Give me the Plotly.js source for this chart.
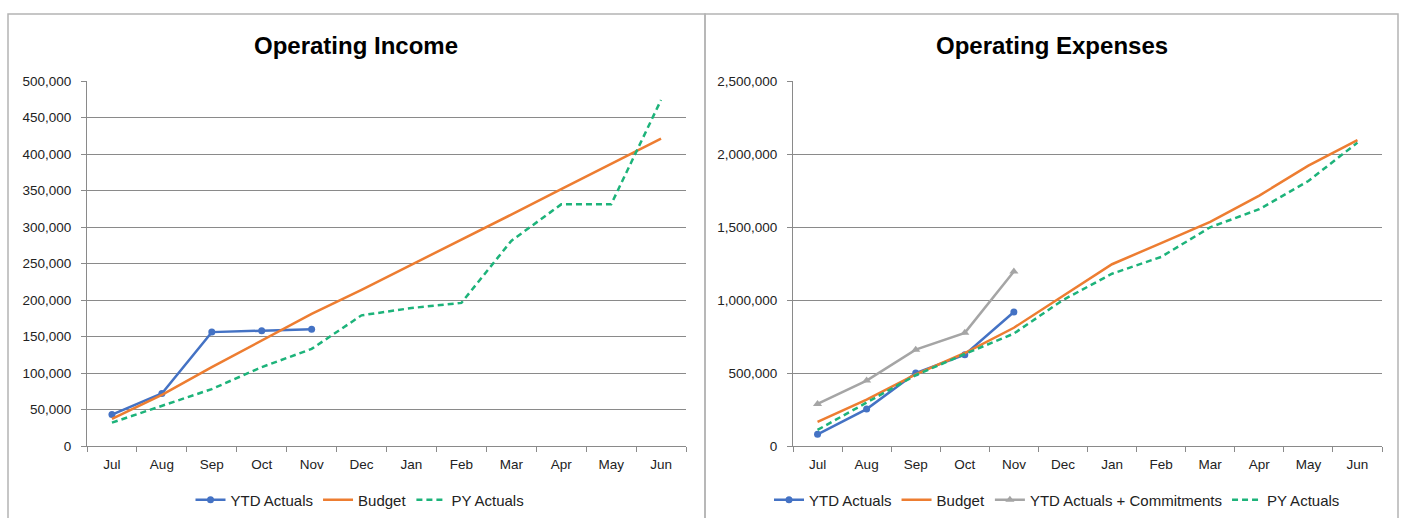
<!DOCTYPE html>
<html>
<head>
<meta charset="utf-8">
<script src="https://cdn.plot.ly/plotly-3.0.1.min.js"></script>
<style>
  html, body { margin: 0; padding: 0; background: #ffffff; }
  #chart { width: 1404px; height: 518px; }
</style>
</head>
<body>
<div id="chart"></div>
<script>
// ---- Data ----
const months = ['Jul','Aug','Sep','Oct','Nov','Dec','Jan','Feb','Mar','Apr','May','Jun'];

const incomeYTD    = [43000, 72000, 156000, 158000, 160000];
const incomeBudget = [37000, 70000, 108000, 145000, 181000, 214000, 248000, 283000, 317000, 352000, 386000, 421000];
const incomePY     = [32000, 55000, 78000, 108000, 133000, 179000, 189000, 196000, 281000, 331000, 331000, 474000];

const expenseYTD    = [80000, 253000, 500000, 625000, 918000];
const expenseBudget = [165000, 318000, 490000, 637000, 810000, 1030000, 1245000, 1390000, 1535000, 1715000, 1920000, 2095000];
const expenseCommit = [288000, 448000, 660000, 775000, 1195000];
const expensePY     = [110000, 300000, 485000, 630000, 770000, 1000000, 1180000, 1295000, 1498000, 1622000, 1815000, 2078000];

const leftTitle = 'Operating Income';
const rightTitle = 'Operating Expenses';

// ---- Styling ----
const W = 1404, H = 518;
const FONT = '"Liberation Sans", Arial, sans-serif';
const C_BLUE = '#4472C4', C_ORANGE = '#ED7D31', C_GREEN = '#1DB37A', C_GRAY = '#A5A5A5';
const GRID = '#8a8a8a';
const DASH = '6px,4px';

const px = v => v / W;
const py = v => (H - v) / H;

const traces = [
  { x: months.slice(0, incomeYTD.length), y: incomeYTD, name: 'YTD Actuals', xaxis: 'x', yaxis: 'y',
    mode: 'lines+markers', line: { color: C_BLUE, width: 2.5 }, marker: { symbol: 'circle', size: 7, color: C_BLUE }, legend: 'legend' },
  { x: months, y: incomeBudget, name: 'Budget', xaxis: 'x', yaxis: 'y',
    mode: 'lines', line: { color: C_ORANGE, width: 2.5 }, legend: 'legend' },
  { x: months, y: incomePY, name: 'PY Actuals', xaxis: 'x', yaxis: 'y',
    mode: 'lines', line: { color: C_GREEN, width: 2.5, dash: DASH }, legend: 'legend' },

  { x: months.slice(0, expenseYTD.length), y: expenseYTD, name: 'YTD Actuals', xaxis: 'x2', yaxis: 'y2',
    mode: 'lines+markers', line: { color: C_BLUE, width: 2.5 }, marker: { symbol: 'circle', size: 7, color: C_BLUE }, legend: 'legend2' },
  { x: months, y: expenseBudget, name: 'Budget', xaxis: 'x2', yaxis: 'y2',
    mode: 'lines', line: { color: C_ORANGE, width: 2.5 }, legend: 'legend2' },
  { x: months.slice(0, expenseCommit.length), y: expenseCommit, name: 'YTD Actuals + Commitments', xaxis: 'x2', yaxis: 'y2',
    mode: 'lines+markers', line: { color: C_GRAY, width: 2.5 }, marker: { symbol: 'triangle-up', size: 8, color: C_GRAY }, legend: 'legend2' },
  { x: months, y: expensePY, name: 'PY Actuals', xaxis: 'x2', yaxis: 'y2',
    mode: 'lines', line: { color: C_GREEN, width: 2.5, dash: DASH }, legend: 'legend2' }
];

function xAxis(domain, anchor) {
  return {
    domain: domain, anchor: anchor, type: 'category', categoryarray: months,
    range: [-0.5, 11.5], showgrid: false, zeroline: false,
    showline: true, linecolor: GRID, linewidth: 1,
    ticks: 'outside', tickson: 'boundaries', ticklen: 5, tickcolor: GRID,
    ticklabelstandoff: 6,
    tickfont: { family: FONT, size: 13.5, color: '#222' }, fixedrange: true
  };
}
function yAxis(max, dtick, anchor) {
  return {
    domain: [py(446), py(81)], anchor: anchor, range: [0, max], dtick: dtick, tick0: 0,
    tickformat: ',d', showgrid: true, gridcolor: GRID, gridwidth: 1, zeroline: false,
    showline: true, linecolor: GRID, linewidth: 1,
    ticks: 'outside', ticklen: 5, tickcolor: GRID, ticklabelstandoff: 7,
    tickfont: { family: FONT, size: 13.5, color: '#222' }, fixedrange: true
  };
}

const layout = {
  width: W, height: H,
  margin: { l: 0, r: 0, t: 0, b: 0, pad: 0 },
  paper_bgcolor: '#ffffff', plot_bgcolor: '#ffffff',
  font: { family: FONT, size: 13.5, color: '#222' },
  showlegend: true,
  xaxis: xAxis([px(87), px(686)], 'y'),
  yaxis: yAxis(500000, 50000, 'x'),
  xaxis2: xAxis([px(793), px(1382)], 'y2'),
  yaxis2: yAxis(2500000, 500000, 'x2'),
  legend: {
    orientation: 'h', x: px(360), xanchor: 'center', y: py(500), yanchor: 'middle',
    font: { family: FONT, size: 15, color: '#222' }, bgcolor: 'rgba(0,0,0,0)', itemclick: false
  },
  legend2: {
    orientation: 'h', x: px(1057), xanchor: 'center', y: py(500), yanchor: 'middle',
    font: { family: FONT, size: 15, color: '#222' }, bgcolor: 'rgba(0,0,0,0)', itemclick: false
  },
  annotations: [
    { text: leftTitle, xref: 'paper', yref: 'paper', x: px(356), y: py(45), xanchor: 'center', yanchor: 'middle',
      showarrow: false, font: { family: FONT, size: 24, color: '#000' } },
    { text: rightTitle, xref: 'paper', yref: 'paper', x: px(1052), y: py(45), xanchor: 'center', yanchor: 'middle',
      showarrow: false, font: { family: FONT, size: 24, color: '#000' } }
  ],
  shapes: [
    { type: 'rect', xref: 'paper', yref: 'paper', x0: px(8), x1: px(705), y0: -0.02, y1: py(14),
      line: { color: '#b4b4b4', width: 1.5 }, fillcolor: 'rgba(0,0,0,0)', layer: 'below' },
    { type: 'rect', xref: 'paper', yref: 'paper', x0: px(705), x1: px(1398), y0: -0.02, y1: py(14),
      line: { color: '#b4b4b4', width: 1.5 }, fillcolor: 'rgba(0,0,0,0)', layer: 'below' }
  ]
};
layout.annotations.forEach(a => { a.font.weight = 'bold'; });

Plotly.newPlot('chart', traces, layout, { displayModeBar: false, staticPlot: true });
</script>
</body>
</html>
